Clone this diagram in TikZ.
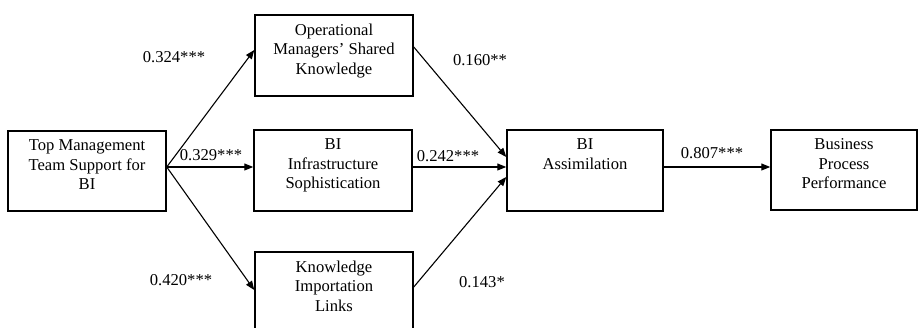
\documentclass[tikz,border=0pt]{standalone}
\usepackage{fontspec}
\setmainfont{Liberation Serif}
\usetikzlibrary{arrows.meta,calc}
\begin{document}
\begin{tikzpicture}[x=1pt,y=-1pt,
  box/.style={draw,line width=1.5pt,inner sep=0pt,minimum height=80pt},
  boxtext/.style={font=\fontsize{16.6}{19.5}\selectfont,align=center,inner sep=0pt,anchor=north},
  coef/.style={font=\fontsize{16.6}{19.5}\selectfont,inner sep=0pt},
  conn/.style={line width=1.1pt,-{Triangle[length=9pt,width=7pt]}}]
\useasboundingbox (0,0) rectangle (918,328);
\clip (0,0) rectangle (918,328);
% boxes
\node[box,minimum width=158pt] (l) at (87,171) {};
\node[box,minimum width=158pt,minimum height=81pt] (o) at (334,55.5) {};
\node[box,minimum width=158pt,minimum height=81pt] (i) at (333,170.5) {};
\node[box,minimum width=158pt,minimum height=84pt] (k) at (334,294) {};
\node[box,minimum width=156pt,minimum height=81pt] (a) at (585,170.5) {};
\node[box,minimum width=146pt] (p) at (844,170) {};
% texts
\node[boxtext] (lt) at ($(l.north)+(0,9.5)$) {Top Management\\Team Support for\\BI};
\node[boxtext] (ot) at ($(o.north)+(0,9.5)$) {Operational\\Managers’ Shared\\Knowledge};
\node[boxtext] (it) at ($(i.north)+(0,9.5)$) {BI\\Infrastructure\\Sophistication};
\node[boxtext] (kt) at ($(k.north)+(0,9.5)$) {Knowledge\\Importation\\Links};
\node[boxtext] (at) at ($(a.north)+(0,9.5)$) {BI\\Assimilation};
\node[boxtext] (pt) at ($(p.north)+(0,9.5)$) {Business\\Process\\Performance};
% connection points
\coordinate (src) at ($(l.east)+(0,-4)$);
\coordinate (oin) at ($(o.west)+(0,-5.5)$);
\coordinate (kin) at ($(k.west)+(0,-4)$);
\coordinate (oout) at ($(o.east)+(0,-8.5)$);
\coordinate (kout) at ($(k.east)+(0,-7)$);
\coordinate (ain1) at ($(a.west)+(0,-13.5)$);
\coordinate (ain3) at ($(a.west)+(0,6.5)$);
% arrows
\draw[conn] (src) -- (oin);
\draw[conn] (src) -- (src -| i.west);
\draw[conn] (src) -- (kin);
\draw[conn] (oout) -- (ain1);
\draw[conn] (i.east |- src) -- (a.west |- src);
\draw[conn] (kout) -- (ain3);
\draw[conn] (a.east |- src) -- (p.west |- src);
% coefficients
\node[coef] (c1) at (174,57) {0.324***};
\node[coef] (c2) at (211,155) {0.329***};
\node[coef] (c3) at (181,280) {0.420***};
\node[coef] (c4) at (480,60) {0.160**};
\node[coef] (c5) at (448,156) {0.242***};
\node[coef] (c6) at (482,282) {0.143*};
\node[coef] (c7) at (712,153) {0.807***};
\end{tikzpicture}
\end{document}
